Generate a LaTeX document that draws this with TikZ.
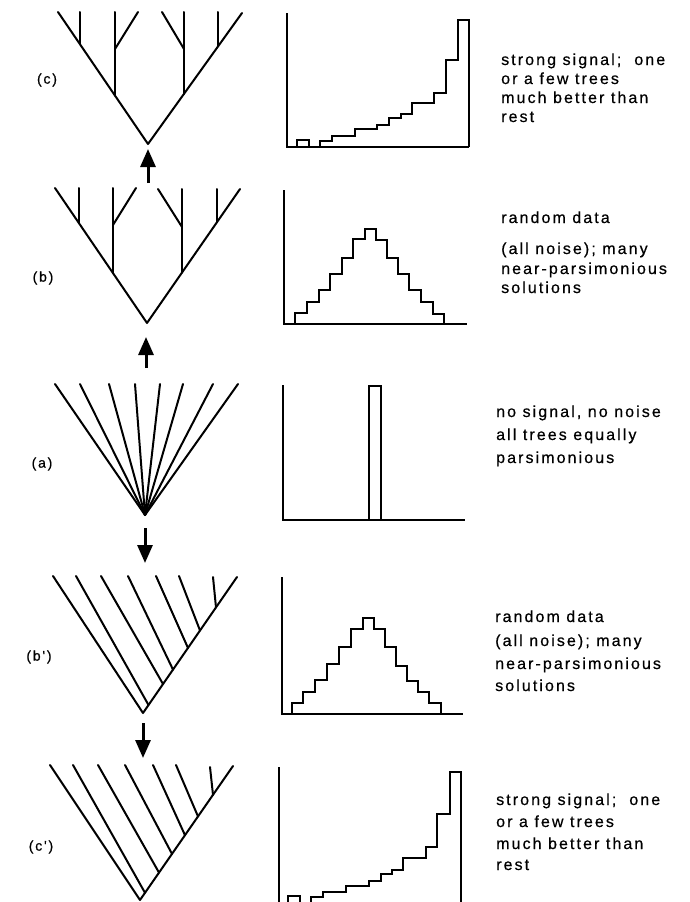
\documentclass[tikz,border=0pt]{standalone}
\usepackage{fontspec}
\usetikzlibrary{arrows.meta}
\newfontfamily\capfont[LetterSpace=13,FakeBold=0.5]{Liberation Sans}
\begin{document}
\begin{tikzpicture}[x=1pt,y=-1pt,
  tree/.style={line width=2pt,line cap=round,line join=round},
  hist/.style={line width=2.2pt,line join=miter},
  axis/.style={line width=1.7pt},
  arr/.style={line width=3pt,-{Triangle[width=15pt,length=18pt]}},
  captext/.style={anchor=base west,inner sep=0pt,font=\capfont\fontsize{16}{20}\selectfont},
  lab/.style={anchor=center,inner sep=0pt,font=\capfont\fontsize{14}{16}\selectfont}]
\useasboundingbox (0,0) rectangle (689,902);
\clip (0,0) rectangle (689,902);

% ---------- tree (c)
\coordinate (cR) at (148,144);
\coordinate (cL) at (58,12);
\coordinate (cT) at (242,13);
\draw[tree] (cL) -- (cR) -- (cT);
\draw[tree] (80,44.3) -- (80,12);
\draw[tree] (115,95.6) -- (115,12);
\draw[tree] (115,49) -- (138,12);
\draw[tree] (184,93.8) -- (184,12);
\draw[tree] (184,49) -- (162,12);
\draw[tree] (218,46.4) -- (218,12);
\node[lab] (lc) at (47,80) {(c)};

% ---------- tree (b)
\coordinate (bR) at (147,323);
\coordinate (bL) at (55,188);
\coordinate (bT) at (240,189);
\draw[tree] (bL) -- (bR) -- (bT);
\draw[tree] (79,223.2) -- (79,188);
\draw[tree] (113,273) -- (113,188);
\draw[tree] (113,225) -- (136,188);
\draw[tree] (182,272.6) -- (182,189);
\draw[tree] (182,227) -- (158,189);
\draw[tree] (217,222) -- (217,189);
\node[lab] (lb) at (43,278) {(b)};

% ---------- tree (a)
\coordinate (aR) at (145,515);
\foreach \x in {55,80,109,135,160,183,213,238}
  \draw[tree] (aR) -- (\x,384);
\node[lab] (la) at (42,464) {(a)};

% ---------- tree (b')
\coordinate (pR) at (143,713);
\coordinate (pL) at (53,576);
\coordinate (pT) at (237,577);
\draw[tree] (pL) -- (pR) -- (pT);
\draw[tree] (76,576) -- (148.5,705);
\draw[tree] (101,576) -- (163,684);
\draw[tree] (128,576) -- (173,669.6);
\draw[tree] (156,576) -- (188,648);
\draw[tree] (179,576) -- (200,630.5);
\draw[tree] (213,577) -- (216,607.4);
\node[lab] (lbp) at (39,657) {(b')};

% ---------- tree (c')
\coordinate (qR) at (140,900);
\coordinate (qL) at (50,765);
\coordinate (qT) at (233,766);
\draw[tree] (qL) -- (qR) -- (qT);
\draw[tree] (73,765) -- (145,892.8);
\draw[tree] (98,765) -- (159,872.6);
\draw[tree] (125,765) -- (172,853.9);
\draw[tree] (153,765) -- (185,835.2);
\draw[tree] (176,765) -- (198,816.4);
\draw[tree] (210,767) -- (213,794.8);
\node[lab] (lcp) at (41,847) {(c')};

% ---------- arrows
\coordinate (a1s) at (148,183); \coordinate (a1e) at (148,149);
\coordinate (a2s) at (146,368); \coordinate (a2e) at (146,337);
\coordinate (a3s) at (145,528); \coordinate (a3e) at (145,563);
\coordinate (a4s) at (143,723); \coordinate (a4e) at (143,758);
\draw[arr] (a1s) -- (a1e);
\draw[arr] (a2s) -- (a2e);
\draw[arr] (a3s) -- (a3e);
\draw[arr] (a4s) -- (a4e);

% ---------- histogram (c)
\draw[axis] (287,13) -- (287,147) -- (469,147);
\draw[hist] (297,147) |- (309,140) -- (309,147);
\draw[hist] (320,147) |- (332,141) |- (355,136) |- (377,129) |- (389,125) |- (401,118)
  |- (412,114) |- (434,103) |- (446,93) |- (458,60) |- (469,20) -- (469,147);

% ---------- histogram (b)
\draw[axis] (284,190) -- (284,324) -- (467,324);
\draw[hist] (295,324) |- (307,313) |- (319,302) |- (330,290) |- (342,274) |- (353,258)
  |- (365,239) |- (376,229) |- (387,240) |- (398,258) |- (409,274) |- (421,290)
  |- (433,302) |- (444,314) -- (444,324);

% ---------- histogram (a)
\draw[axis] (283,385) -- (283,520) -- (465,520);
\draw[hist] (369,520) |- (381,386) -- (381,520);

% ---------- histogram (b')
\draw[axis] (282,577) -- (282,714) -- (463,714);
\draw[hist] (292,714) |- (303,703) |- (315,692) |- (327,680) |- (339,664) |- (351,647)
  |- (363,629) |- (374,618) |- (385,629) |- (396,647) |- (407,666) |- (418,681)
  |- (429,692) |- (441,703) -- (441,714);

% ---------- histogram (c')
\draw[axis] (279,767) -- (279,905) -- (461,905);
\draw[hist] (288,905) |- (300,896) -- (300,905);
\draw[hist] (311,905) |- (323,897) |- (346,892) |- (369,886) |- (381,881) |- (392,874)
  |- (403,870) |- (426,858) |- (437,847) |- (450,814) |- (461,772) -- (461,905);

% ---------- captions
\node[captext] (c1) at (501,65) {strong signal;\ \ one};
\node[captext] (c2) at (501,84) {or a few trees};
\node[captext] (c3) at (501,103) {much better than};
\node[captext] (c4) at (501,122) {rest};

\node[captext] (b1) at (501,223) {random data};
\node[captext] (b2) at (501,254) {(all noise); many};
\node[captext] (b3) at (501,274) {near-parsimonious};
\node[captext] (b4) at (501,293) {solutions};

\node[captext] (a1) at (496,417) {no signal, no noise};
\node[captext] (a2) at (496,440) {all trees equally};
\node[captext] (a3) at (496,463) {parsimonious};

\node[captext] (p1) at (495,622) {random data};
\node[captext] (p2) at (495,646) {(all noise); many};
\node[captext] (p3) at (495,669) {near-parsimonious};
\node[captext] (p4) at (495,691) {solutions};

\node[captext] (q1) at (496,805) {strong signal;\ \ one};
\node[captext] (q2) at (496,827) {or a few trees};
\node[captext] (q3) at (496,849) {much better than};
\node[captext] (q4) at (496,870) {rest};
\end{tikzpicture}
\end{document}
